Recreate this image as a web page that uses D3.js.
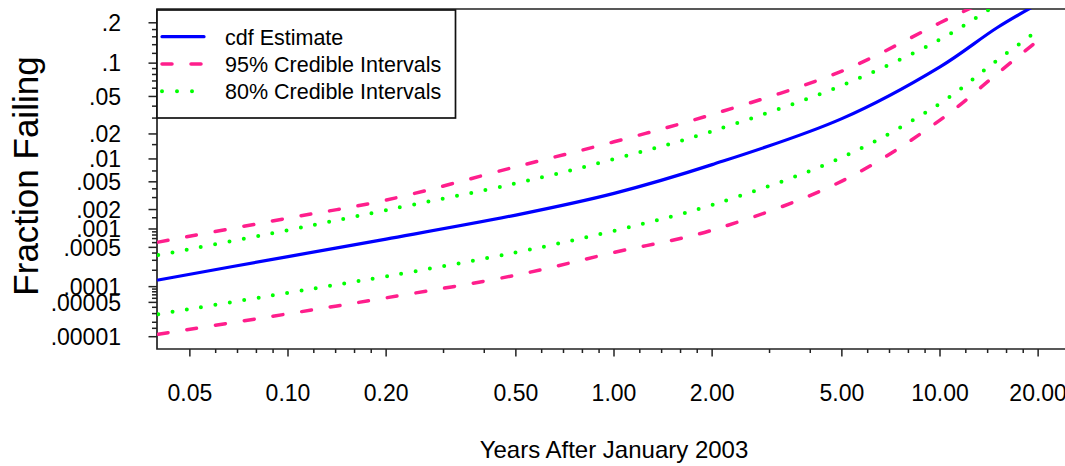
<!DOCTYPE html>
<html>
<head>
<meta charset="utf-8">
<script src="https://cdn.jsdelivr.net/npm/d3@7"></script>
<style>
  body { margin: 0; background: #fff; }
  svg { display: block; font-family: "Liberation Sans", Arial, sans-serif; }
</style>
</head>
<body>
<div id="chart"></div>
<script>
// years after Jan 2003, and fraction failing
var years    = [0.04, 0.1, 0.2, 0.5, 1, 2, 5, 10, 15, 20];
var cdfEst   = [1.33e-4, 3.48e-4, 6.85e-4, 1.65e-3, 3.45e-3, 8.46e-3, 0.0296, 0.0931, 0.186, 0.263];
var upper95  = [6.12e-4, 1.48e-3, 2.76e-3, 7.93e-3, 0.0162, 0.0328, 0.0856, 0.200, 0.297, 0.40];
var lower95  = [1.13e-5, 2.97e-5, 6.13e-5, 1.63e-4, 4.10e-4, 9.58e-4, 5.11e-3, 0.0285, 0.0816, 0.151];
var upper80  = [3.69e-4, 9.58e-4, 1.96e-3, 4.76e-3, 9.95e-3, 0.0215, 0.0637, 0.153, 0.260, 0.345];
var lower80  = [2.92e-5, 7.65e-5, 1.55e-4, 4.10e-4, 9.35e-4, 2.35e-3, 0.01045, 0.0426, 0.106, 0.178];

var xTicks = [0.05, 0.1, 0.2, 0.5, 1, 2, 5, 10, 20];
var xMinor = [0.06, 0.07, 0.08, 0.09, 0.12, 0.14, 0.16, 0.18, 0.3, 0.4, 0.6, 0.7, 0.8, 0.9,
              1.2, 1.4, 1.6, 1.8, 3, 4, 6, 7, 8, 9, 12, 14, 16, 18];
var yTicks = [0.2, 0.1, 0.05, 0.02, 0.01, 0.005, 0.002, 0.001, 0.0005, 0.0001, 0.00005, 0.00001];
var yMinor = [0.18, 0.16, 0.14, 0.12, 0.09, 0.08, 0.07, 0.06, 0.04, 0.03, 0.015, 0.007, 0.004, 0.003,
              0.0015, 0.0009, 0.0008, 0.0007, 0.0006, 0.0004, 0.0003, 0.0002,
              0.00009, 0.00008, 0.00007, 0.00006, 0.00004, 0.00003, 0.00002, 0.000015];

var legendLabels = ["cdf Estimate", "95% Credible Intervals", "80% Credible Intervals"];

function probPlot() {
    var width = 1065, height = 466,
        plotLeft = 157, plotTop = 9, plotBottom = 349, plotRight = 1075,
        tickFont = 23;

    // inverse normal cdf (Acklam), y axis is a lognormal probability scale
    function qnorm(p) {
        var a = [-3.969683028665376e+01, 2.209460984245205e+02, -2.759285104469687e+02, 1.383577518672690e+02, -3.066479806614716e+01, 2.506628277459239e+00],
            b = [-5.447609879822406e+01, 1.615858368580409e+02, -1.556989798598866e+02, 6.680131188771972e+01, -1.328068155288572e+01],
            c = [-7.784894002430293e-03, -3.223964580411365e-01, -2.400758277161838e+00, -2.549732539343734e+00, 4.374664141464968e+00, 2.938163982698783e+00],
            d = [7.784695709041462e-03, 3.224671290700398e-01, 2.445134137142996e+00, 3.754408661907416e+00],
            pl = 0.02425, q, r;
        if (p < pl) {
            q = Math.sqrt(-2 * Math.log(p));
            return (((((c[0]*q+c[1])*q+c[2])*q+c[3])*q+c[4])*q+c[5]) / ((((d[0]*q+d[1])*q+d[2])*q+d[3])*q+1);
        }
        if (p <= 1 - pl) {
            q = p - 0.5; r = q * q;
            return (((((a[0]*r+a[1])*r+a[2])*r+a[3])*r+a[4])*r+a[5])*q / (((((b[0]*r+b[1])*r+b[2])*r+b[3])*r+b[4])*r+1);
        }
        q = Math.sqrt(-2 * Math.log(1 - p));
        return -(((((c[0]*q+c[1])*q+c[2])*q+c[3])*q+c[4])*q+c[5]) / ((((d[0]*q+d[1])*q+d[2])*q+d[3])*q+1);
    }

    var x = d3.scaleLog().domain([0.1, 10]).range([288, 940]);
    var yz = d3.scaleLinear().domain([qnorm(0.00001), qnorm(0.2)]).range([336.7, 22.8]);
    function y(p) { return yz(qnorm(p)); }

    var svg = d3.select("#chart").append("svg")
        .attr("width", width)
        .attr("height", height);

    svg.append("clipPath").attr("id", "plotClip")
      .append("rect")
        .attr("x", plotLeft).attr("y", plotTop)
        .attr("width", plotRight - plotLeft).attr("height", plotBottom - plotTop);

    // x axis ticks
    var xAxis = svg.append("g").attr("transform", "translate(0," + plotBottom + ")");
    xAxis.selectAll(".minor").data(xMinor).enter().append("line")
        .attr("x1", function(d) { return x(d); }).attr("x2", function(d) { return x(d); })
        .attr("y1", 0).attr("y2", 4)
        .attr("stroke", "#222").attr("stroke-width", 1.5);
    xAxis.selectAll(".major").data(xTicks).enter().append("line")
        .attr("x1", function(d) { return x(d); }).attr("x2", function(d) { return x(d); })
        .attr("y1", 0).attr("y2", 7.5)
        .attr("stroke", "#222").attr("stroke-width", 1.5);
    xAxis.selectAll("text").data(xTicks).enter().append("text")
        .attr("x", function(d) { return x(d); })
        .attr("y", 52)
        .attr("text-anchor", "middle")
        .style("font-size", tickFont + "px")
        .text(d3.format(".2f"));

    // y axis ticks
    var yAxis = svg.append("g").attr("transform", "translate(" + plotLeft + ",0)");
    yAxis.selectAll(".minor").data(yMinor).enter().append("line")
        .attr("y1", function(d) { return y(d); }).attr("y2", function(d) { return y(d); })
        .attr("x1", 0).attr("x2", -5)
        .attr("stroke", "#222").attr("stroke-width", 1.5);
    yAxis.selectAll(".major").data(yTicks).enter().append("line")
        .attr("y1", function(d) { return y(d); }).attr("y2", function(d) { return y(d); })
        .attr("x1", 0).attr("x2", -8.5)
        .attr("stroke", "#222").attr("stroke-width", 1.5);
    yAxis.selectAll("text").data(yTicks).enter().append("text")
        .attr("x", -36)
        .attr("y", function(d) { return y(d); })
        .attr("dy", "0.36em")
        .attr("text-anchor", "end")
        .style("font-size", tickFont + "px")
        .text(function(d) { return String(d).replace(/^0/, ""); });

    // frame: left, top and bottom lines (right side runs off the page)
    svg.append("path")
        .attr("d", "M" + plotRight + "," + plotTop + "H" + plotLeft + "V" + plotBottom + "H" + plotRight)
        .attr("fill", "none").attr("stroke", "#222").attr("stroke-width", 1.7);

    // curves
    var series = [
        {vals: upper95, color: "#ff1e8c", dash: "10 19", width: 3.5},
        {vals: lower95, color: "#ff1e8c", dash: "10 19", width: 3.5},
        {vals: upper80, color: "#00ff00", dash: "0 14.5", width: 4},
        {vals: lower80, color: "#00ff00", dash: "0 14.5", width: 4},
        {vals: cdfEst,  color: "#0000ff", dash: null, width: 3.2}
    ];

    var line = d3.line()
        .x(function(d) { return x(d[0]); })
        .y(function(d) { return y(d[1]); })
        .curve(d3.curveCatmullRom.alpha(0.5));

    var plot = svg.append("g").attr("clip-path", "url(#plotClip)");
    series.forEach(function(s) {
        plot.append("path")
            .attr("d", line(years.map(function(t, i) { return [t, s.vals[i]]; })))
            .attr("fill", "none")
            .attr("stroke", s.color)
            .attr("stroke-width", s.width)
            .attr("stroke-linecap", "round")
            .attr("stroke-dasharray", s.dash);
    });

    // legend
    var legend = svg.append("g");
    legend.append("rect")
        .attr("x", 157).attr("y", 10).attr("width", 298.5).attr("height", 108)
        .attr("fill", "#fff").attr("stroke", "#111").attr("stroke-width", 1.7);

    var legendStyle = [
        {color: "#0000ff", dash: null, width: 3.2},
        {color: "#ff1e8c", dash: "10 19", width: 3.5},
        {color: "#00ff00", dash: "0 15", width: 4}
    ];
    legendLabels.forEach(function(label, i) {
        var ly = 36.7 + i * 27.3;
        legend.append("line")
            .attr("x1", 162).attr("x2", 204)
            .attr("y1", ly).attr("y2", ly)
            .attr("stroke", legendStyle[i].color)
            .attr("stroke-width", legendStyle[i].width)
            .attr("stroke-linecap", "round")
            .attr("stroke-dasharray", legendStyle[i].dash);
        legend.append("text")
            .attr("x", 225).attr("y", ly + 8)
            .style("font-size", "21.5px")
            .text(label);
    });

    // axis titles
    svg.append("text")
        .attr("x", 614).attr("y", 458)
        .attr("text-anchor", "middle")
        .style("font-size", "24px")
        .text("Years After January 2003");

    svg.append("text")
        .attr("transform", "translate(38,176) rotate(-90)")
        .attr("text-anchor", "middle")
        .style("font-size", "35px")
        .text("Fraction Failing");
}

probPlot();
</script>
</body>
</html>
